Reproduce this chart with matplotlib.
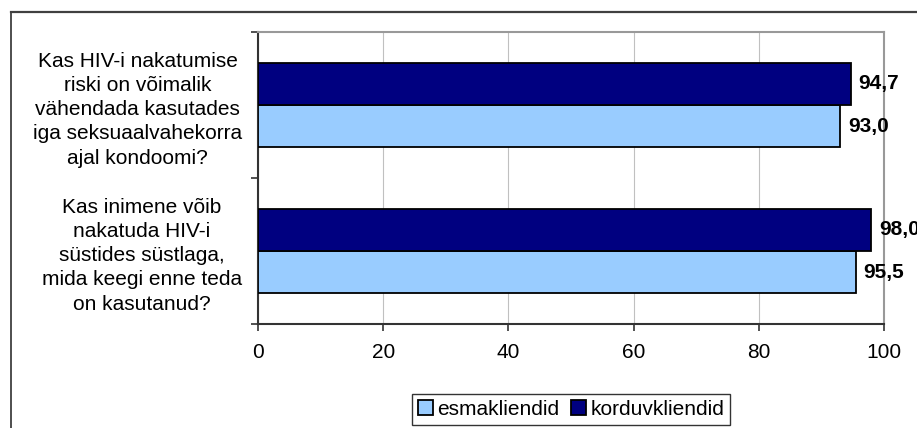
import matplotlib
matplotlib.use("Agg")
import matplotlib.pyplot as plt
from matplotlib.lines import Line2D
from matplotlib.patches import Patch

plt.rcParams['font.family'] = ['Liberation Sans', 'DejaVu Sans']

categories = [
    "Kas HIV-i nakatumise\nriski on võimalik\nvähendada kasutades\niga seksuaalvahekorra\najal kondoomi?",
    "Kas inimene võib\nnakatuda HIV-i\nsüstides süstlaga,\nmida keegi enne teda\non kasutanud?",
]
series_names = ["esmakliendid", "korduvkliendid"]
esmakliendid = [93.0, 95.5]
korduvkliendid = [94.7, 98.0]
xticks = [0, 20, 40, 60, 80, 100]

W, H = 917, 428
fig = plt.figure(figsize=(W / 100, H / 100), dpi=100)
ax = fig.add_axes([258 / W, 1 - 324 / H, (884 - 258) / W, (324 - 32) / H])

light = "#99CCFF"
dark = "#000080"
n = len(categories)
centers = [n - 0.5 - i for i in range(n)]
off = 0.144
h = 0.288

ax.barh([c - off for c in centers], esmakliendid, height=h, color=light,
        edgecolor="black", linewidth=1.3, label=series_names[0], zorder=3)
ax.barh([c + off for c in centers], korduvkliendid, height=h, color=dark,
        edgecolor="black", linewidth=1.3, label=series_names[1], zorder=3)

def fmt(v):
    return f"{v:.1f}".replace(".", ",")

for c, v in zip(centers, esmakliendid):
    ax.annotate(fmt(v), xy=(v, c - off), xytext=(5.5, 0), textcoords="offset points",
                va="center", ha="left", fontsize=15, fontweight="bold", annotation_clip=False)
for c, v in zip(centers, korduvkliendid):
    ax.annotate(fmt(v), xy=(v, c + off), xytext=(5.5, 0), textcoords="offset points",
                va="center", ha="left", fontsize=15, fontweight="bold", annotation_clip=False)

ax.set_xlim(0, 100)
ax.set_ylim(0, n)
ax.set_xticks(xticks)
ax.set_xticklabels([str(t) for t in xticks])
ax.set_yticks(range(n + 1))
ax.set_yticklabels([])
ax.set_yticks(centers, minor=True)
ax.set_yticklabels(categories, minor=True, multialignment="center", fontsize=15,
                   linespacing=1.35)
ax.tick_params(axis="y", which="minor", length=0, pad=11.5)
ax.tick_params(axis="y", which="major", length=5, width=1.2, direction="out", color="#333333")
ax.tick_params(axis="x", length=5, width=1.2, direction="out", color="#333333",
               labelsize=15, pad=9)

ax.grid(axis="x", color="#c0c0c0", linewidth=0.8, zorder=0)
ax.set_axisbelow(True)
for s in ["left", "bottom"]:
    ax.spines[s].set_color("#333333")
    ax.spines[s].set_linewidth(1.5)
for s in ["top", "right"]:
    ax.spines[s].set_color("#999999")
    ax.spines[s].set_linewidth(1.5)

handles = [Patch(facecolor=light, edgecolor="black", linewidth=1.3),
           Patch(facecolor=dark, edgecolor="black", linewidth=1.3)]
leg = fig.legend(handles, series_names, loc="center", bbox_to_anchor=(571 / W, 1 - 409.5 / H),
                 ncol=2, fontsize=15, frameon=True, fancybox=False, shadow=False,
                 handlelength=0.7, handleheight=0.7, handletextpad=0.2, columnspacing=0.6,
                 borderpad=0.3, borderaxespad=0)
leg.get_frame().set_edgecolor("black")
leg.get_frame().set_linewidth(1.0)

fx = 10.5 / W
fy = 1 - 11.5 / H
fig.add_artist(Line2D([fx, fx], [0, fy], color="#404040", linewidth=1.3, transform=fig.transFigure))
fig.add_artist(Line2D([fx, 1], [fy, fy], color="#404040", linewidth=1.6, transform=fig.transFigure))

fig.savefig("out.png", dpi=100)
